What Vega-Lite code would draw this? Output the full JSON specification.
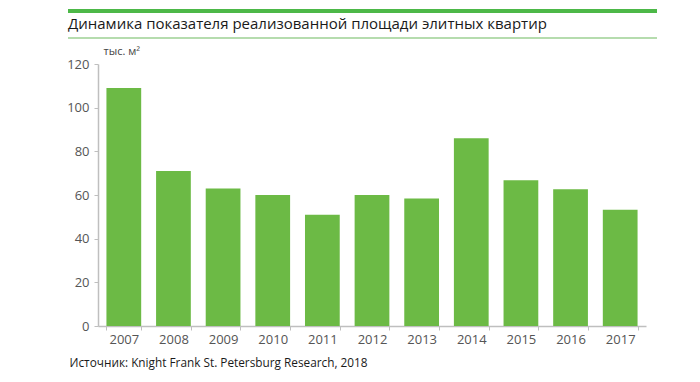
{
  "$schema": "https://vega.github.io/schema/vega-lite/v6.json",
  "autosize": "none",
  "padding": {"left": 98, "top": 64, "right": 54, "bottom": 56},
  "width": 548,
  "height": 262,
  "background": "white",
  "config": {"view": {"stroke": null}, "font": "Open Sans"},
  "title": {
    "text": "Динамика показателя реализованной площади элитных квартир",
    "anchor": "start",
    "frame": "group",
    "dx": -30,
    "dy": 44.5,
    "fontSize": 15,
    "font": "Open Sans",
    "fontWeight": "normal",
    "color": "#1a1a1a",
    "baseline": "alphabetic",
    "offset": 10
  },
  "data": {
    "values": [
      {"year": "2007", "value": 109},
      {"year": "2008", "value": 71},
      {"year": "2009", "value": 63},
      {"year": "2010", "value": 60},
      {"year": "2011", "value": 51},
      {"year": "2012", "value": 60},
      {"year": "2013", "value": 58.4},
      {"year": "2014", "value": 86},
      {"year": "2015", "value": 66.7},
      {"year": "2016", "value": 62.6},
      {"year": "2017", "value": 53.3}
    ]
  },
  "layer": [
    {
      "mark": {"type": "bar", "color": "#6cba45"},
      "encoding": {
        "x": {
          "field": "year",
          "type": "nominal",
          "scale": {"paddingInner": 0.3, "paddingOuter": 0.17},
          "axis": {
            "title": "Источник: Knight Frank St. Petersburg Research, 2018",
            "titleX": -29,
            "titleY": 36,
            "titleAlign": "left",
            "titleAnchor": "start",
            "titleBaseline": "middle",
            "titleFontSize": 11.8,
            "titleFontWeight": "normal",
            "titleColor": "#1a1a1a",
            "titleFont": "Open Sans",
            "labelAngle": 0,
            "labelFontSize": 13,
            "labelColor": "#555555",
            "labelPadding": 3,
            "tickBand": "extent",
            "tickSize": 4,
            "tickColor": "#bfbfbf",
            "domainColor": "#bfbfbf",
            "domainWidth": 1.5
          }
        },
        "y": {
          "field": "value",
          "type": "quantitative",
          "scale": {"domain": [0, 120]},
          "axis": {
            "title": "тыс. м²",
            "titleAngle": 0,
            "titleAlign": "left",
            "titleBaseline": "middle",
            "titleX": 5,
            "titleY": -13,
            "titleFontSize": 11,
            "titleFontWeight": "normal",
            "titleColor": "#444444",
            "titleFont": "Open Sans",
            "values": [0, 20, 40, 60, 80, 100, 120],
            "grid": false,
            "labelFontSize": 13,
            "labelColor": "#555555",
            "labelPadding": 5,
            "tickSize": 4,
            "tickColor": "#bfbfbf",
            "domainColor": "#bfbfbf",
            "domainWidth": 1.5
          }
        }
      }
    },
    {
      "mark": {"type": "rule", "color": "#4db848", "strokeWidth": 3, "clip": false},
      "encoding": {
        "x": {"value": -30},
        "x2": {"value": 559},
        "y": {"value": -53}
      }
    },
    {
      "mark": {"type": "rule", "color": "#b5dcae", "strokeWidth": 1.5, "clip": false},
      "encoding": {
        "x": {"value": -30},
        "x2": {"value": 559},
        "y": {"value": -26.3}
      }
    }
  ]
}
